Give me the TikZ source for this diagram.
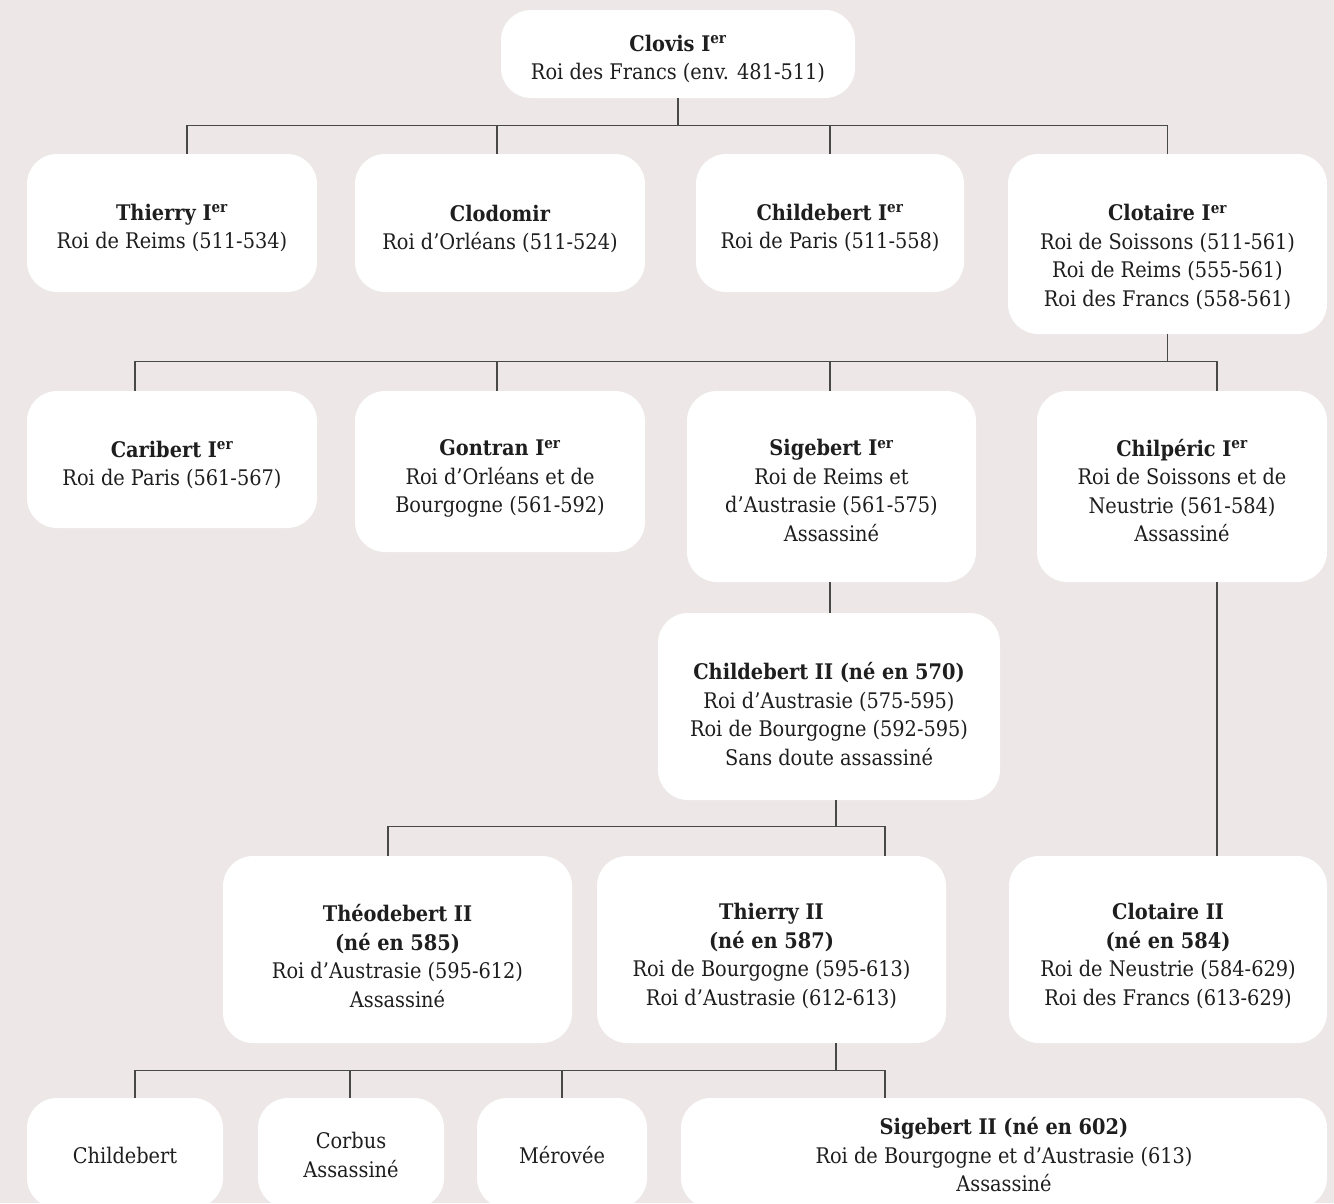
\documentclass[tikz,border=0pt]{standalone}
\usepackage{fontspec}
\setmainfont{DejaVu Serif Condensed}
\usepackage{tikz}
\definecolor{bgc}{RGB}{237,231,231}
\definecolor{lnc}{RGB}{72,72,72}
\definecolor{txc}{RGB}{30,30,30}
\tikzset{
  box/.style={fill=white, rounded corners=30pt, inner sep=0pt},
  txt/.style={align=center, inner sep=0pt,
    font=\fontsize{21.5}{28.5}\selectfont, text=txc},
  conn/.style={draw=lnc, line width=1.3pt},
}
\newcommand{\Ier}{I\textsuperscript{er}}
\begin{document}
\begin{tikzpicture}[x=1pt,y=-1pt]
\useasboundingbox (0,0) rectangle (1334,1203);
\clip (0,0) rectangle (1334,1203);
\fill[bgc] (0,0) rectangle (1334,1203);

% ---------- boxes ----------
\node[box, minimum width=354pt, minimum height=88pt]  (clovis)      at (678,54) {};
\node[box, minimum width=290pt, minimum height=138pt] (thierry1)    at (172,223) {};
\node[box, minimum width=290pt, minimum height=138pt] (clodomir)    at (500,223) {};
\node[box, minimum width=268pt, minimum height=138pt] (childebert1) at (830,223) {};
\node[box, minimum width=319pt, minimum height=180pt] (clotaire1)   at (1167.5,244) {};
\node[box, minimum width=290pt, minimum height=137pt] (caribert)    at (172,459.5) {};
\node[box, minimum width=290pt, minimum height=161pt] (gontran)     at (500,471.5) {};
\node[box, minimum width=289pt, minimum height=191pt] (sigebert1)   at (831.5,486.5) {};
\node[box, minimum width=290pt, minimum height=191pt] (chilperic)   at (1182,486.5) {};
\node[box, minimum width=342pt, minimum height=187pt] (childebert2) at (829,706.5) {};
\node[box, minimum width=349pt, minimum height=187pt] (theodebert)  at (397.5,949.5) {};
\node[box, minimum width=349pt, minimum height=187pt] (thierry2)    at (771.5,949.5) {};
\node[box, minimum width=318pt, minimum height=187pt] (clotaire2)   at (1168,949.5) {};
\node[box, minimum width=196pt, minimum height=110pt] (childebert)  at (125,1153) {};
\node[box, minimum width=186pt, minimum height=110pt] (corbus)      at (351,1153) {};
\node[box, minimum width=170pt, minimum height=110pt] (merovee)     at (562,1153) {};
\node[box, minimum width=646pt, minimum height=110pt] (sigebert2)   at (1004,1153) {};

% ---------- texts ----------
\node[txt] (clovis-t) at ([yshift=-5pt]clovis.center)
  {\textbf{Clovis \Ier}\\Roi des Francs (env. 481-511)};
\node[txt] (thierry1-t) at ([yshift=-5pt]thierry1.center)
  {\textbf{Thierry \Ier}\\Roi de Reims (511-534)};
\node[txt] (clodomir-t) at ([yshift=-6pt]clodomir.center)
  {\textbf{Clodomir}\\Roi d’Orléans (511-524)};
\node[txt] (childebert1-t) at ([yshift=-5pt]childebert1.center)
  {\textbf{Childebert \Ier}\\Roi de Paris (511-558)};
\node[txt] (clotaire1-t) at ([yshift=-13pt]clotaire1.center)
  {\textbf{Clotaire \Ier}\\Roi de Soissons (511-561)\\Roi de Reims (555-561)\\Roi des Francs (558-561)};
\node[txt] (caribert-t) at ([yshift=-5.5pt]caribert.center)
  {\textbf{Caribert \Ier}\\Roi de Paris (561-567)};
\node[txt] (gontran-t) at ([yshift=-7pt]gontran.center)
  {\textbf{Gontran \Ier}\\Roi d’Orléans et de\\Bourgogne (561-592)};
\node[txt] (sigebert1-t) at ([yshift=-4pt]sigebert1.center)
  {\textbf{Sigebert \Ier}\\Roi de Reims et\\d’Austrasie (561-575)\\Assassiné};
\node[txt] (chilperic-t) at ([yshift=-4pt]chilperic.center)
  {\textbf{Chilpéric \Ier}\\Roi de Soissons et de\\Neustrie (561-584)\\Assassiné};
\node[txt] (childebert2-t) at ([yshift=-7.5pt]childebert2.center)
  {\textbf{Childebert II (né en 570)}\\Roi d’Austrasie (575-595)\\Roi de Bourgogne (592-595)\\Sans doute assassiné};
\node[txt] (theodebert-t) at ([yshift=-6.5pt]theodebert.center)
  {\textbf{Théodebert II}\\\textbf{(né en 585)}\\Roi d’Austrasie (595-612)\\Assassiné};
\node[txt] (thierry2-t) at ([yshift=-6.5pt]thierry2.center)
  {\textbf{Thierry II}\\\textbf{(né en 587)}\\Roi de Bourgogne (595-613)\\Roi d’Austrasie (612-613)};
\node[txt] (clotaire2-t) at ([yshift=-6.5pt]clotaire2.center)
  {\textbf{Clotaire II}\\\textbf{(né en 584)}\\Roi de Neustrie (584-629)\\Roi des Francs (613-629)};
\node[txt] (childebert-t) at ([yshift=-2pt]childebert.center) {Childebert};
\node[txt] (corbus-t) at ([yshift=-2pt]corbus.center) {Corbus\\Assassiné};
\node[txt] (merovee-t) at ([yshift=-2pt]merovee.center) {Mérovée};
\node[txt] (sigebert2-t) at ([yshift=-2pt]sigebert2.center)
  {\textbf{Sigebert II (né en 602)}\\Roi de Bourgogne et d’Austrasie (613)\\Assassiné};

% ---------- connectors ----------
% Clovis
\draw[conn] (clovis.south) -- ++(0,27) coordinate (j1);
\draw[conn] ([xshift=15pt]thierry1.north) |- (j1) -| (clotaire1.north);
\draw[conn] ([xshift=-3pt]clodomir.north) coordinate (d1) -- (d1 |- j1);
\draw[conn] (childebert1.north) -- (childebert1.north |- j1);
% Clotaire I
\draw[conn] (clotaire1.south) -- ++(0,27) coordinate (j2);
\draw[conn] ([xshift=-37pt]caribert.north) |- (j2) -| ([xshift=35pt]chilperic.north);
\draw[conn] ([xshift=-3pt]gontran.north) coordinate (d2) -- (d2 |- j2);
\draw[conn] ([xshift=-1.5pt]sigebert1.north) coordinate (d3) -- (d3 |- j2);
% Sigebert I -> Childebert II
\draw[conn] ([xshift=-1.5pt]sigebert1.south) coordinate (d4) -- (d4 |- childebert2.north);
% Childebert II
\draw[conn] ([xshift=7pt]childebert2.south) -- ++(0,26) coordinate (j3);
\draw[conn] ([xshift=-9.5pt]theodebert.north) |- (j3) -| ([xshift=113.5pt]thierry2.north);
% Chilperic -> Clotaire II
\draw[conn] ([xshift=35pt]chilperic.south) coordinate (d5) -- (d5 |- clotaire2.north);
% Thierry II
\draw[conn] ([xshift=64.5pt]thierry2.south) -- ++(0,27) coordinate (j4);
\draw[conn] ([xshift=10pt]childebert.north) |- (j4) -| ([xshift=-119pt]sigebert2.north);
\draw[conn] ([xshift=-1pt]corbus.north) coordinate (d6) -- (d6 |- j4);
\draw[conn] (merovee.north) -- (merovee.north |- j4);
\end{tikzpicture}
\end{document}
